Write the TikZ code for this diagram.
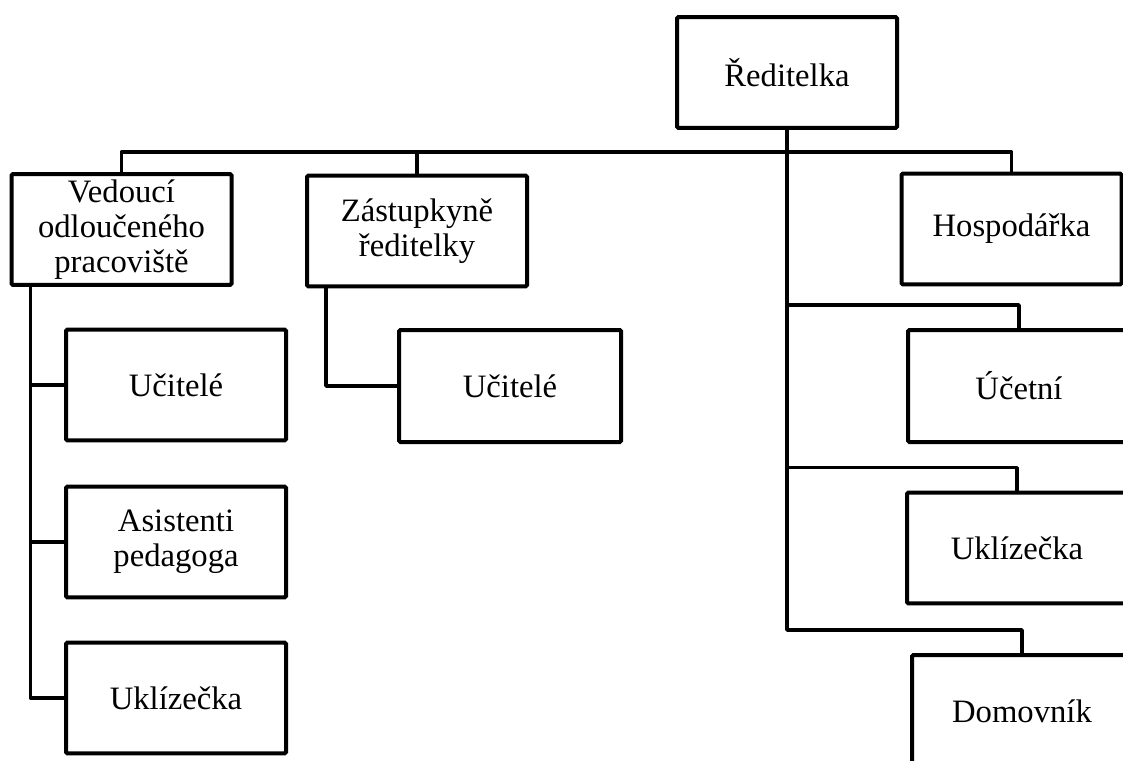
\documentclass[tikz,border=0pt]{standalone}
\usepackage{fontspec}
\setmainfont{Liberation Serif}
\usetikzlibrary{calc}

\tikzset{
  unit/.style={draw, line width=3pt, rounded corners=1pt, minimum width=165pt, minimum height=83pt,
    inner sep=1pt, align=center, font=\fontsize{24.5}{26.5}\selectfont},
  link/.style={line width=2.7pt, line join=round}
}

\begin{document}
\begin{tikzpicture}[x=0.75pt,y=0.75pt,yscale=-1,xscale=1]
\clip (0,0) rectangle (1123,760);

%Shape: top box
\node[unit] (red) at (787,72.5) {Ředitelka};

%Shape: second level
\node[unit] (ved) at (121.5,229.5) {Vedoucí\\odloučeného\\pracoviště};
\node[unit] (zas) at (417,231) {Zástupkyně\\ředitelky};
\node[unit] (hosp) at (1011.5,229) {Hospodářka};

%Shape: under Vedoucí
\node[unit] (uc1) at (176,385) {Učitelé};
\node[unit] (asi) at (176,542) {Asistenti\\pedagoga};
\node[unit] (ukl1) at (176,698) {Uklízečka};

%Shape: under Zástupkyně
\node[unit, minimum width=166.5pt, minimum height=84pt] (uc2) at (510,386) {Učitelé};

%Shape: right column
\node[unit, minimum width=166.5pt, minimum height=84pt] (uce) at (1019,386) {Účetní};
\node[unit] (ukl2) at (1017,548) {Uklízečka};
\node[unit, minimum height=84pt] (dom) at (1022,711) {Domovník};

%Lines: bus
\coordinate (bus) at (787,152);
\draw[link] (ved.north) |- (bus) -| (hosp.north);
\draw[link] (zas.north) -- (zas.north |- bus);

%Lines: trunk from top box
\draw[link] (dom.north) -- ++(0,-23) -| (red.south);
\draw[link] (uce.north) -- ++(0,-23) -| (red.south);
\draw[link] (ukl2.north) -- ++(0,-23) -| (red.south);

%Lines: left stem
\draw[link] ($(ved.south west)+(21,0)$) |- (ukl1.west);
\draw[link] (uc1.west) -- ++(-33,0);
\draw[link] (asi.west) -- ++(-33,0);

%Lines: Zástupkyně stem
\draw[link] ($(zas.south west)+(21,0)$) |- (uc2.west);

\end{tikzpicture}
\end{document}
